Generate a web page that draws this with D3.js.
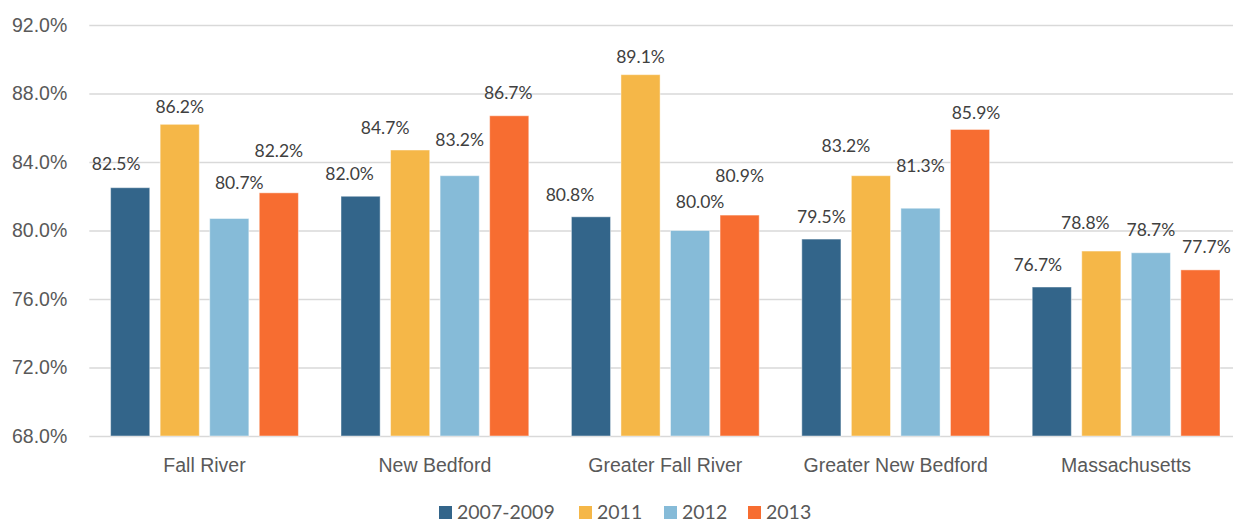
<!DOCTYPE html>
<html>
<head>
<meta charset="utf-8">
<script src="https://cdn.jsdelivr.net/npm/d3@7"></script>
<style>
  body { margin: 0; background: #fff; }
  svg { display: block; font-family: "Lato", "Noto Sans", sans-serif; }
</style>
</head>
<body>
<div id="chart"></div>
<script>
  // values
  const places = ['Fall River', 'New Bedford', 'Greater Fall River', 'Greater New Bedford', 'Massachusetts'];
  const years = ['2007-2009', '2011', '2012', '2013'];
  const rate_0709 = [82.5, 82.0, 80.8, 79.5, 76.7];
  const rate_2011 = [86.2, 84.7, 89.1, 83.2, 78.8];
  const rate_2012 = [80.7, 83.2, 80.0, 81.3, 78.7];
  const rate_2013 = [82.2, 86.7, 80.9, 85.9, 77.7];
  const yTicks = [68, 72, 76, 80, 84, 88, 92];

  const series = [rate_0709, rate_2011, rate_2012, rate_2013];
  const colors = ['#33658a', '#f5b748', '#86bbd8', '#f76d31'];

  // label nudges (dx, gap above bar top) so labels don't collide, like the original
  const labelOffsets = [
    [[-14, 18], [0, 11], [10, 30], [0, 36]],
    [[-11, 16], [-25, 16], [0, 30], [-1, 17]],
    [[-21, 16], [0, 12], [10, 23], [0, 33]],
    [[0, 16], [-25, 24], [0, 36], [6, 10]],
    [[-14, 16], [-16, 22], [0, 17], [6, 17]]
  ];

  const width = 1233, height = 521;
  const plot = {left: 89.3, right: 1241.3, top: 25, bottom: 436};

  const svg = d3.select('#chart')
    .append('svg')
      .attr('width', width)
      .attr('height', height);

  const x0 = d3.scaleBand()
    .domain(places)
    .range([plot.left, plot.right])
    .padding(0);

  const x1 = d3.scaleBand()
    .domain(years)
    .range([0, x0.bandwidth()])
    .paddingInner(0.21)
    .paddingOuter(0.43);

  const y = d3.scaleLinear()
    .domain([68, 92])
    .range([plot.bottom, plot.top]);

  // gridlines + y labels
  const yAxis = d3.axisLeft(y)
    .tickValues(yTicks)
    .tickSize(-(width - plot.left))
    .tickPadding(22)
    .tickFormat(d => d.toFixed(1) + '%');

  const yG = svg.append('g')
    .attr('transform', `translate(${plot.left}, 0)`)
    .call(yAxis);
  yG.select('.domain').remove();
  yG.selectAll('line').attr('stroke', '#d9d9d9').attr('stroke-width', 1.5);
  yG.selectAll('text')
    .attr('fill', '#595959')
    .style('font-size', '19.5px');

  // table of bars
  const rows = [];
  places.forEach((p, i) => {
    years.forEach((yr, j) => {
      rows.push({place: p, year: yr, value: series[j][i], i: i, j: j});
    });
  });

  svg.append('g')
    .selectAll('rect')
    .data(rows)
    .join('rect')
      .attr('x', d => x0(d.place) + x1(d.year))
      .attr('y', d => y(d.value))
      .attr('width', x1.bandwidth())
      .attr('height', d => y(68) - y(d.value))
      .attr('fill', d => colors[d.j])
      .attr('stroke', 'rgba(255,255,255,0.45)')
      .attr('stroke-width', 1);

  svg.append('g')
    .selectAll('text')
    .data(rows)
    .join('text')
      .attr('x', d => x0(d.place) + x1(d.year) + x1.bandwidth() / 2 + labelOffsets[d.i][d.j][0])
      .attr('y', d => y(d.value) - labelOffsets[d.i][d.j][1])
      .attr('text-anchor', 'middle')
      .attr('fill', '#404040')
      .style('font-size', '17.5px')
      .text(d => d.value.toFixed(1) + '%');

  // category labels
  const xAxis = d3.axisBottom(x0).tickSize(0).tickPadding(22);
  const xG = svg.append('g')
    .attr('transform', `translate(0, ${plot.bottom})`)
    .call(xAxis);
  xG.select('.domain').remove();
  xG.selectAll('text')
    .attr('fill', '#595959')
    .style('font-size', '19.5px');

  // legend
  const legendX = [439, 579, 664, 748];
  const legend = svg.append('g')
    .selectAll('g')
    .data(years)
    .join('g')
      .attr('transform', (d, k) => `translate(${legendX[k]}, 506)`);
  legend.append('rect')
    .attr('width', 13)
    .attr('height', 13)
    .attr('fill', (d, k) => colors[k]);
  legend.append('text')
    .attr('x', 18)
    .attr('y', 12.5)
    .attr('fill', '#595959')
    .style('font-size', '19.5px')
    .text(d => d);
</script>
</body>
</html>
